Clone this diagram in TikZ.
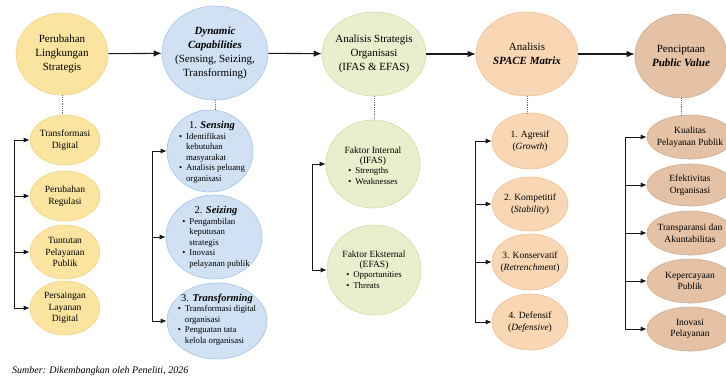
\documentclass[tikz,border=0pt]{standalone}
\usepackage{fontspec}
\setmainfont{Liberation Serif}
\usetikzlibrary{shapes.geometric,arrows.meta}

\definecolor{ylwfill}{RGB}{250,228,160}
\definecolor{ylwline}{RGB}{240,212,130}
\definecolor{blufill}{RGB}{208,225,244}
\definecolor{bluline}{RGB}{165,195,230}
\definecolor{grnfill}{RGB}{232,239,205}
\definecolor{grnline}{RGB}{208,222,165}
\definecolor{orgfill}{RGB}{250,215,180}
\definecolor{orgline}{RGB}{238,190,150}
\definecolor{brnfill}{RGB}{229,194,165}
\definecolor{brnline}{RGB}{208,170,138}
\definecolor{arw}{RGB}{25,25,25}

\newcommand{\ptlist}[1]{\begin{tabular}{@{}l@{\hspace{4pt}}l@{}}#1\end{tabular}}
\newcommand{\bul}{\textbullet}

\tikzset{
  bub/.style={ellipse, draw=#1line, fill=#1fill, line width=0.6pt, inner sep=0pt},
  rad/.style 2 args={minimum width=2*#1, minimum height=2*#2},
  main/.style={font=\fontsize{11}{14}\selectfont, align=center, inner sep=0pt},
  sub/.style={font=\fontsize{9.5}{11.5}\selectfont, align=center, inner sep=0pt},
  lst/.style={font=\fontsize{8.8}{10.5}\selectfont, align=center, inner sep=0pt},
  flow/.style={draw=arw, line width=1.1pt, -{Latex[length=8pt,width=6.5pt]}},
  feed/.style={draw=arw, line width=0.9pt, -{Latex[length=6pt,width=5pt]}},
  link/.style={draw=arw!60, densely dotted, line width=0.8pt},
}

\begin{document}
\begin{tikzpicture}[x=1pt,y=1pt,yscale=-1]
\clip (0,0) rectangle (726,378);

% Column 1 : Perubahan Lingkungan Strategis
\node[bub=ylw, rad={46}{41}] (m1) at (62,54) {};
\node[main] (m1t) at (m1) {Perubahan\\Lingkungan\\Strategis};
\node[bub=ylw, rad={35}{25}] (a1) at (65,140) {};
\node[sub] (a1t) at (a1) {Transformasi\\Digital};
\node[bub=ylw, rad={35}{25}] (a2) at (65,196) {};
\node[sub] (a2t) at (a2) {Perubahan\\Regulasi};
\node[bub=ylw, rad={35}{27}] (a3) at (65,252) {};
\node[sub] (a3t) at (a3) {Tuntutan\\Pelayanan\\Publik};
\node[bub=ylw, rad={35}{27}] (a4) at (65,308) {};
\node[sub] (a4t) at (a4) {Persaingan\\Layanan\\Digital};

% Column 2 : Dynamic Capabilities
\node[bub=blu, rad={53}{47}] (m2) at (215,53) {};
\node[main] (m2t) at (m2) {\textbf{\textit{Dynamic}}\\\textbf{\textit{Capabilities}}\\(Sensing, Seizing,\\Transforming)};
\node[bub=blu, rad={43}{41}] (b1) at (210,151) {};
\node[lst] (b1t) at (212,153) {{\fontsize{10.5}{12}\selectfont 1. \textbf{\textit{Sensing}}}\\
  \ptlist{\bul & Identifikasi\\ & kebutuhan\\ & masyarakat\\ \bul & Analisis peluang\\ & organisasi}};
\node[bub=blu, rad={48}{42}] (b2) at (214,237) {};
\node[lst] (b2t) at (216,238) {{\fontsize{10.5}{12}\selectfont 2. \textbf{\textit{Seizing}}}\\
  \ptlist{\bul & Pengambilan\\ & keputusan\\ & strategis\\ \bul & Inovasi\\ & pelayanan publik}};
\node[bub=blu, rad={50}{38}] (b3) at (217,321) {};
\node[lst] (b3t) at (217,320) {{\fontsize{10.5}{12}\selectfont 3. \textbf{\textit{Transforming}}}\\
  \ptlist{\bul & Transformasi digital\\ & organisasi\\ \bul & Penguatan tata\\ & kelola organisasi}};

% Column 3 : Analisis Strategis Organisasi
\node[bub=grn, rad={52}{42}] (m3) at (374,54) {};
\node[main] (m3t) at (m3) {Analisis Strategis\\Organisasi\\(IFAS \& EFAS)};
\node[bub=grn, rad={47}{44}] (c1) at (373,164) {};
\node[lst] (c1t) at (373,167) {{\fontsize{9.5}{11.5}\selectfont Faktor Internal}\\{\fontsize{9.5}{11.5}\selectfont (IFAS)}\\
  \ptlist{\bul & Strengths\\ \bul & Weaknesses}};
\node[bub=grn, rad={47}{45}] (c2) at (374,270) {};
\node[lst] (c2t) at (374,271) {{\fontsize{9.5}{11.5}\selectfont Faktor Eksternal}\\{\fontsize{9.5}{11.5}\selectfont (EFAS)}\\
  \ptlist{\bul & Opportunities\\ \bul & Threats}};

% Column 4 : Analisis SPACE Matrix
\node[bub=org, rad={51}{42}] (m4) at (527,54) {};
\node[main] (m4t) at (m4) {Analisis\\\textbf{\textit{SPACE Matrix}}};
\node[bub=org, rad={38}{28}] (d1) at (530,141) {};
\node[sub] (d1t) at (d1) {1. Agresif\\(\textit{Growth})};
\node[bub=org, rad={38}{27}] (d2) at (530,204) {};
\node[sub] (d2t) at (d2) {2. Kompetitif\\(\textit{Stability})};
\node[bub=org, rad={38}{28}] (d3) at (530,262) {};
\node[sub] (d3t) at (d3) {3. Konservatif\\(\textit{Retrenchment})};
\node[bub=org, rad={38}{28}] (d4) at (530,322) {};
\node[sub] (d4t) at (d4) {4. Defensif\\(\textit{Defensive})};

% Column 5 : Penciptaan Public Value
\node[bub=brn, rad={46}{42}] (m5) at (681,56) {};
\node[main] (m5t) at (m5) {Penciptaan\\\textbf{\textit{Public Value}}};
\node[bub=brn, rad={43}{22}] (e1) at (690,137) {};
\node[sub] (e1t) at (e1) {Kualitas\\Pelayanan Publik};
\node[bub=brn, rad={43}{21}] (e2) at (690,185) {};
\node[sub] (e2t) at (e2) {Efektivitas\\Organisasi};
\node[bub=brn, rad={43}{22}] (e3) at (690,233) {};
\node[sub] (e3t) at (e3) {Transparansi dan\\Akuntabilitas};
\node[bub=brn, rad={43}{22}] (e4) at (690,281) {};
\node[sub] (e4t) at (e4) {Kepercayaan\\Publik};
\node[bub=brn, rad={43}{22}] (e5) at (690,329) {};
\node[sub] (e5t) at (e5) {Inovasi\\Pelayanan};

% Main flow
\draw[flow] (m1) -- (m2);
\draw[flow] (m2) -- (m3);
\draw[flow] (m3) -- (m4);
\draw[flow] (m4) -- (m1.center -| m5.west);

% Dotted links to the sub items
\draw[link] (m1.south) -- (m1.south |- a1.north);
\draw[link] (m2.south) -- (m2.south |- b1.north);
\draw[link] (m3.south) -- (m3.south |- c1.north);
\draw[link] (m4.south) -- (m4.south |- d1.north);
\draw[link] (m5.south) -- (m5.south |- e1.north);

% Side brackets
\coordinate (k1) at (14,0);
\coordinate (k2) at (152,0);
\coordinate (k3) at (312,0);
\coordinate (k4) at (475,0);
\coordinate (k5) at (625,0);

\draw[arw, line width=0.9pt] (k1 |- a1) -- (k1 |- a4);
\draw[feed] (k1 |- a1) -- (a1);
\draw[feed] (k1 |- a2) -- (a2);
\draw[feed] (k1 |- a3) -- (a3);
\draw[feed] (k1 |- a4) -- (a4);

\draw[arw, line width=0.9pt] (k2 |- b1) -- (k2 |- b3);
\draw[feed] (k2 |- b1) -- (b1);
\draw[feed] (k2 |- b2) -- (b2);
\draw[feed] (k2 |- b3) -- (b3);

\draw[arw, line width=0.9pt] (k3 |- c1) -- (k3 |- c2);
\draw[feed] (k3 |- c1) -- (c1);
\draw[feed] (k3 |- c2) -- (c2);

\draw[arw, line width=0.9pt] (k4 |- d1) -- (k4 |- d4);
\draw[feed] (k4 |- d1) -- (d1);
\draw[feed] (k4 |- d2) -- (d2);
\draw[feed] (k4 |- d3) -- (d3);
\draw[feed] (k4 |- d4) -- (d4);

\draw[arw, line width=0.9pt] (k5 |- e1) -- (k5 |- e5);
\draw[feed] (k5 |- e1) -- (e1);
\draw[feed] (k5 |- e2) -- (e2);
\draw[feed] (k5 |- e3) -- (e3);
\draw[feed] (k5 |- e4) -- (e4);
\draw[feed] (k5 |- e5) -- (e5);

% Source note
\node[anchor=west, inner sep=0pt, font=\fontsize{10}{12}\selectfont\itshape] (src) at (12,371) {Sumber: Dikembangkan oleh Peneliti, 2026};

\end{tikzpicture}
\end{document}
